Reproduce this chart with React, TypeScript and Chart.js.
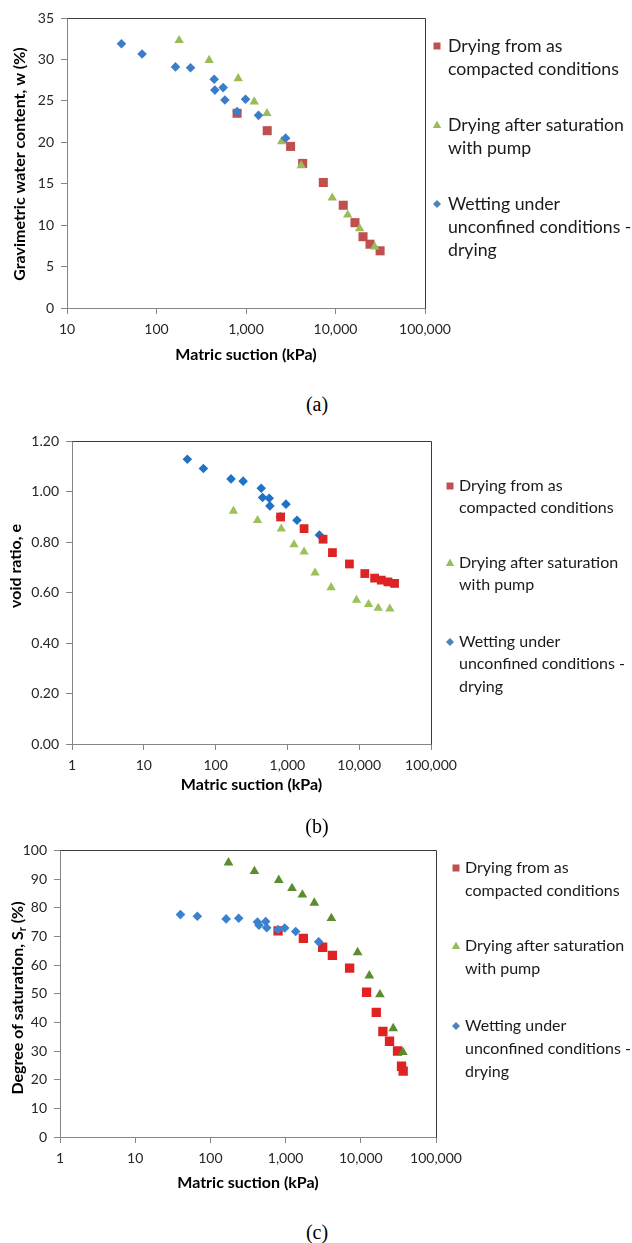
import React, { useEffect, useRef } from 'react';
import { Chart, registerables } from 'chart.js';
Chart.register(...registerables);

const FONT = 'Lato, "Open Sans", sans-serif';
const AXIS = '#868686';
const TXT = '#262626';

const legendLabels = [
  ['Drying from as', 'compacted conditions'],
  ['Drying after saturation', 'with pump'],
  ['Wetting under', 'unconfined conditions -', 'drying'],
];
const legendStyles = ['square', 'triangle', 'diamond'];
const legendColors = ['#C0504D', '#9BBB59', '#4F81BD'];

const xTitle = 'Matric suction (kPa)';
const xTicksA = [10, 100, 1000, 10000, 100000];
const xTicksBC = [1, 10, 100, 1000, 10000, 100000];

// ---------- Panel (a): gravimetric water content ----------
const aRedX = [795, 1726, 3150, 4300, 7310, 12200, 16500, 20300, 24300, 31500];
const aRedY = [23.5, 21.4, 19.5, 17.45, 15.15, 12.4, 10.3, 8.6, 7.7, 6.9];
const aGreenX = [179, 387, 818, 1235, 1714, 2500, 4140, 9200, 13700, 18600, 27400];
const aGreenY = [32.3, 29.9, 27.7, 24.9, 23.5, 20.1, 17.2, 13.3, 11.25, 9.6, 7.4];
const aBlueX = [40.6, 69, 163, 240, 441, 449, 556, 581, 795, 988, 1380, 2770];
const aBlueY = [31.9, 30.65, 29.1, 29.0, 27.6, 26.3, 26.6, 25.1, 23.7, 25.2, 23.25, 20.5];

// ---------- Panel (b): void ratio ----------
const bRedX = [804, 1706, 3140, 4240, 7310, 11970, 16400, 20300, 25100, 31100];
const bRedY = [0.899, 0.853, 0.811, 0.758, 0.713, 0.675, 0.657, 0.649, 0.642, 0.636];
const bGreenX = [177, 384, 822, 1236, 1706, 2430, 4060, 9170, 13500, 18400, 26700];
const bGreenY = [0.923, 0.886, 0.852, 0.79, 0.761, 0.678, 0.62, 0.57, 0.553, 0.538, 0.535];
const bBlueX = [40.4, 67.6, 164, 242, 432, 451, 558, 571, 795, 955, 1360, 2790];
const bBlueY = [1.128, 1.091, 1.05, 1.041, 1.013, 0.976, 0.973, 0.943, 0.9, 0.95, 0.886, 0.828];

// ---------- Panel (c): degree of saturation ----------
const cRedX = [794, 1722, 3110, 4190, 7100, 11940, 16060, 19670, 24100, 30800, 34800, 36600];
const cRedY = [71.9, 69.3, 66.2, 63.4, 58.9, 50.5, 43.5, 36.8, 33.4, 30.0, 24.7, 23.0];
const cGreenX = [174, 385, 811, 1218, 1671, 2410, 4060, 9070, 12980, 17950, 27000, 36300];
const cGreenY = [95.7, 92.7, 89.6, 86.8, 84.5, 81.7, 76.3, 64.4, 56.3, 49.7, 37.9, 29.6];
const cBlueX = [40, 67, 162, 238, 422, 443, 544, 561, 794, 973, 1363, 2750];
const cBlueY = [77.6, 77.0, 76.1, 76.3, 75.0, 73.9, 75.2, 73.0, 72.4, 72.9, 71.7, 68.1];

type Area = { left: number; top: number; right: number; bottom: number };
type Series = { x: number[]; y: number[]; color: string; style: string; radius: number; order: number };
type Part = { t: string; sub?: boolean };
interface PanelCfg {
  top: number;
  height: number;
  area: Area;
  xMin: number;
  xMax: number;
  xTicks: number[];
  yMin: number;
  yMax: number;
  yStep: number;
  yDecimals: number;
  series: Series[];
  yTitle: { parts: Part[]; cx: number; cy: number };
  xTitleY: number;
  legend: { mx: number; tx: number; ys: number[]; size: number; lh: number };
}

const W = 632;

function drawMarker(ctx: CanvasRenderingContext2D, style: string, x: number, y: number) {
  ctx.beginPath();
  if (style === 'square') {
    ctx.rect(x - 3.5, y - 3.5, 7, 7);
  } else if (style === 'triangle') {
    ctx.moveTo(x, y - 4.5);
    ctx.lineTo(x + 4.2, y + 3);
    ctx.lineTo(x - 4.2, y + 3);
    ctx.closePath();
  } else {
    ctx.moveTo(x, y - 4);
    ctx.lineTo(x + 4, y);
    ctx.lineTo(x, y + 4);
    ctx.lineTo(x - 4, y);
    ctx.closePath();
  }
  ctx.fill();
}

function Panel({ cfg }: { cfg: PanelCfg }) {
  const ref = useRef<HTMLCanvasElement | null>(null);
  useEffect(() => {
    if (!ref.current) return;
    const H = cfg.height;
    const titleFont = 16;
    const titlePadBottom = H - cfg.xTitleY - (titleFont * 1.2) / 2;
    const extras = {
      id: 'extras',
      afterDraw(chart: any) {
        const ctx: CanvasRenderingContext2D = chart.ctx;
        const ca = chart.chartArea;
        ctx.save();
        // frame (top and right)
        ctx.strokeStyle = '#3a3a3a';
        ctx.lineWidth = 1;
        ctx.beginPath();
        const l = Math.round(ca.left) + 0.5;
        const t = Math.round(ca.top) + 0.5;
        const r = Math.round(ca.right) + 0.5;
        const b = Math.round(ca.bottom) + 0.5;
        ctx.moveTo(l, t);
        ctx.lineTo(r, t);
        ctx.lineTo(r, b);
        ctx.stroke();
        // legend
        ctx.textBaseline = 'middle';
        ctx.textAlign = 'left';
        ctx.font = `${cfg.legend.size}px ${FONT}`;
        legendLabels.forEach((lines, i) => {
          const y0 = cfg.legend.ys[i];
          ctx.fillStyle = legendColors[i];
          drawMarker(ctx, legendStyles[i], cfg.legend.mx, y0);
          ctx.fillStyle = '#1a1a1a';
          lines.forEach((ln, j) => ctx.fillText(ln, cfg.legend.tx, y0 + j * cfg.legend.lh));
        });
        // y title
        ctx.translate(cfg.yTitle.cx, cfg.yTitle.cy);
        ctx.rotate(-Math.PI / 2);
        const big = `bold ${titleFont}px ${FONT}`;
        const small = `bold 11px ${FONT}`;
        let total = 0;
        cfg.yTitle.parts.forEach((p) => {
          ctx.font = p.sub ? small : big;
          total += ctx.measureText(p.t).width;
        });
        let x = -total / 2;
        ctx.fillStyle = '#000';
        cfg.yTitle.parts.forEach((p) => {
          ctx.font = p.sub ? small : big;
          ctx.fillText(p.t, x, p.sub ? 4 : 0);
          x += ctx.measureText(p.t).width;
        });
        ctx.restore();
      },
    };
    const chart = new Chart(ref.current, {
      type: 'scatter',
      data: {
        datasets: cfg.series.map((s, i) => ({
          label: legendLabels[i].join(' '),
          data: s.x.map((v, k) => ({ x: v, y: s.y[k] })),
          backgroundColor: s.color,
          borderColor: s.color,
          borderWidth: 0,
          pointStyle: s.style as any,
          pointRadius: s.radius,
          pointHoverRadius: s.radius,
          pointBorderWidth: 0,
          order: s.order,
        })),
      },
      options: {
        animation: false,
        responsive: false,
        maintainAspectRatio: false,
        devicePixelRatio: 1,
        events: [],
        layout: { padding: { left: 0, top: cfg.area.top, right: W - cfg.area.right, bottom: 0 } },
        plugins: { legend: { display: false }, tooltip: { enabled: false } },
        scales: {
          x: {
            type: 'logarithmic',
            position: 'bottom',
            min: cfg.xMin,
            max: cfg.xMax,
            afterBuildTicks: (scale: any) => {
              scale.ticks = cfg.xTicks.map((v) => ({ value: v }));
            },
            afterFit: (scale: any) => {
              scale.height = H - cfg.area.bottom;
            },
            grid: { drawOnChartArea: false, tickLength: 6, color: AXIS },
            border: { color: AXIS },
            ticks: {
              autoSkip: false,
              maxRotation: 0,
              padding: 7,
              color: TXT,
              font: { family: FONT, size: 14 },
              callback: (v: any) => Number(v).toLocaleString('en-US'),
            },
            title: {
              display: true,
              text: xTitle,
              color: '#000',
              font: { family: FONT, size: titleFont, weight: 'bold' },
              padding: { top: 0, bottom: titlePadBottom },
            },
          },
          y: {
            type: 'linear',
            min: cfg.yMin,
            max: cfg.yMax,
            afterFit: (scale: any) => {
              scale.width = cfg.area.left;
            },
            grid: { drawOnChartArea: false, tickLength: 6, color: AXIS },
            border: { color: AXIS },
            ticks: {
              stepSize: cfg.yStep,
              padding: 7,
              color: TXT,
              font: { family: FONT, size: 14 },
              callback: (v: any) => Number(v).toFixed(cfg.yDecimals),
            },
          },
        },
      },
      plugins: [extras],
    } as any);
    return () => chart.destroy();
  }, [cfg]);
  return (
    <canvas
      ref={ref}
      width={W}
      height={cfg.height}
      style={{ position: 'absolute', left: 0, top: cfg.top, width: W, height: cfg.height }}
    />
  );
}

const RED_A = '#C0504D';
const GREEN_A = '#9BBB59';
const BLUE_A = '#3B7DC9';

const panels: PanelCfg[] = [
  {
    top: 0,
    height: 372,
    area: { left: 67, top: 18, right: 425, bottom: 308 },
    xMin: 10,
    xMax: 100000,
    xTicks: xTicksA,
    yMin: 0,
    yMax: 35,
    yStep: 5,
    yDecimals: 0,
    series: [
      { x: aRedX, y: aRedY, color: RED_A, style: 'rect', radius: 6.4, order: 2 },
      { x: aGreenX, y: aGreenY, color: GREEN_A, style: 'triangle', radius: 5.4, order: 1 },
      { x: aBlueX, y: aBlueY, color: BLUE_A, style: 'rectRot', radius: 4.8, order: 0 },
    ],
    yTitle: { parts: [{ t: 'Gravimetric water content, w (%)' }], cx: 20, cy: 164 },
    xTitleY: 355,
    legend: { mx: 437, tx: 448, ys: [46, 125, 204], size: 17.7, lh: 23.3 },
  },
  {
    top: 420,
    height: 380,
    area: { left: 72, top: 21, right: 431, bottom: 324 },
    xMin: 1,
    xMax: 100000,
    xTicks: xTicksBC,
    yMin: 0,
    yMax: 1.2,
    yStep: 0.2,
    yDecimals: 2,
    series: [
      { x: bRedX, y: bRedY, color: '#DD2424', style: 'rect', radius: 6.2, order: 0 },
      { x: bGreenX, y: bGreenY, color: '#9BC25A', style: 'triangle', radius: 5.4, order: 1 },
      { x: bBlueX, y: bBlueY, color: '#1E72C8', style: 'rectRot', radius: 4.8, order: 2 },
    ],
    yTitle: { parts: [{ t: 'void ratio, e' }], cx: 16, cy: 146 },
    xTitleY: 365,
    legend: { mx: 450, tx: 459, ys: [66, 143, 222], size: 16, lh: 22.3 },
  },
  {
    top: 835,
    height: 370,
    area: { left: 60, top: 12, right: 436, bottom: 302 },
    xMin: 1,
    xMax: 100000,
    xTicks: xTicksBC,
    yMin: 0,
    yMax: 100,
    yStep: 10,
    yDecimals: 0,
    series: [
      { x: cRedX, y: cRedY, color: '#E02222', style: 'rect', radius: 6.6, order: 2 },
      { x: cGreenX, y: cGreenY, color: '#5B8C2E', style: 'triangle', radius: 5.6, order: 1 },
      { x: cBlueX, y: cBlueY, color: '#3A82CF', style: 'rectRot', radius: 4.8, order: 0 },
    ],
    yTitle: {
      parts: [{ t: 'Degree of saturation, S' }, { t: 'r', sub: true }, { t: ' (%)' }],
      cx: 18,
      cy: 998 - 835,
    },
    xTitleY: 348,
    legend: { mx: 456, tx: 465, ys: [33, 111, 191], size: 16, lh: 23 },
  },
];

const captions = [
  { text: '(a)', y: 404 },
  { text: '(b)', y: 826 },
  { text: '(c)', y: 1232 },
];

export default function App() {
  return (
    <div
      style={{
        position: 'absolute',
        left: 0,
        top: 0,
        width: W,
        height: 1243,
        background: '#fff',
        overflow: 'hidden',
      }}
    >
      {panels.map((p, i) => (
        <Panel key={i} cfg={p} />
      ))}
      {captions.map((c, i) => (
        <div
          key={'c' + i}
          style={{
            position: 'absolute',
            left: 267,
            width: 100,
            top: c.y - 12,
            height: 24,
            lineHeight: '24px',
            textAlign: 'center',
            fontFamily: '"Liberation Serif", "Times New Roman", serif',
            fontSize: 20,
            color: '#000',
          }}
        >
          {c.text}
        </div>
      ))}
    </div>
  );
}
